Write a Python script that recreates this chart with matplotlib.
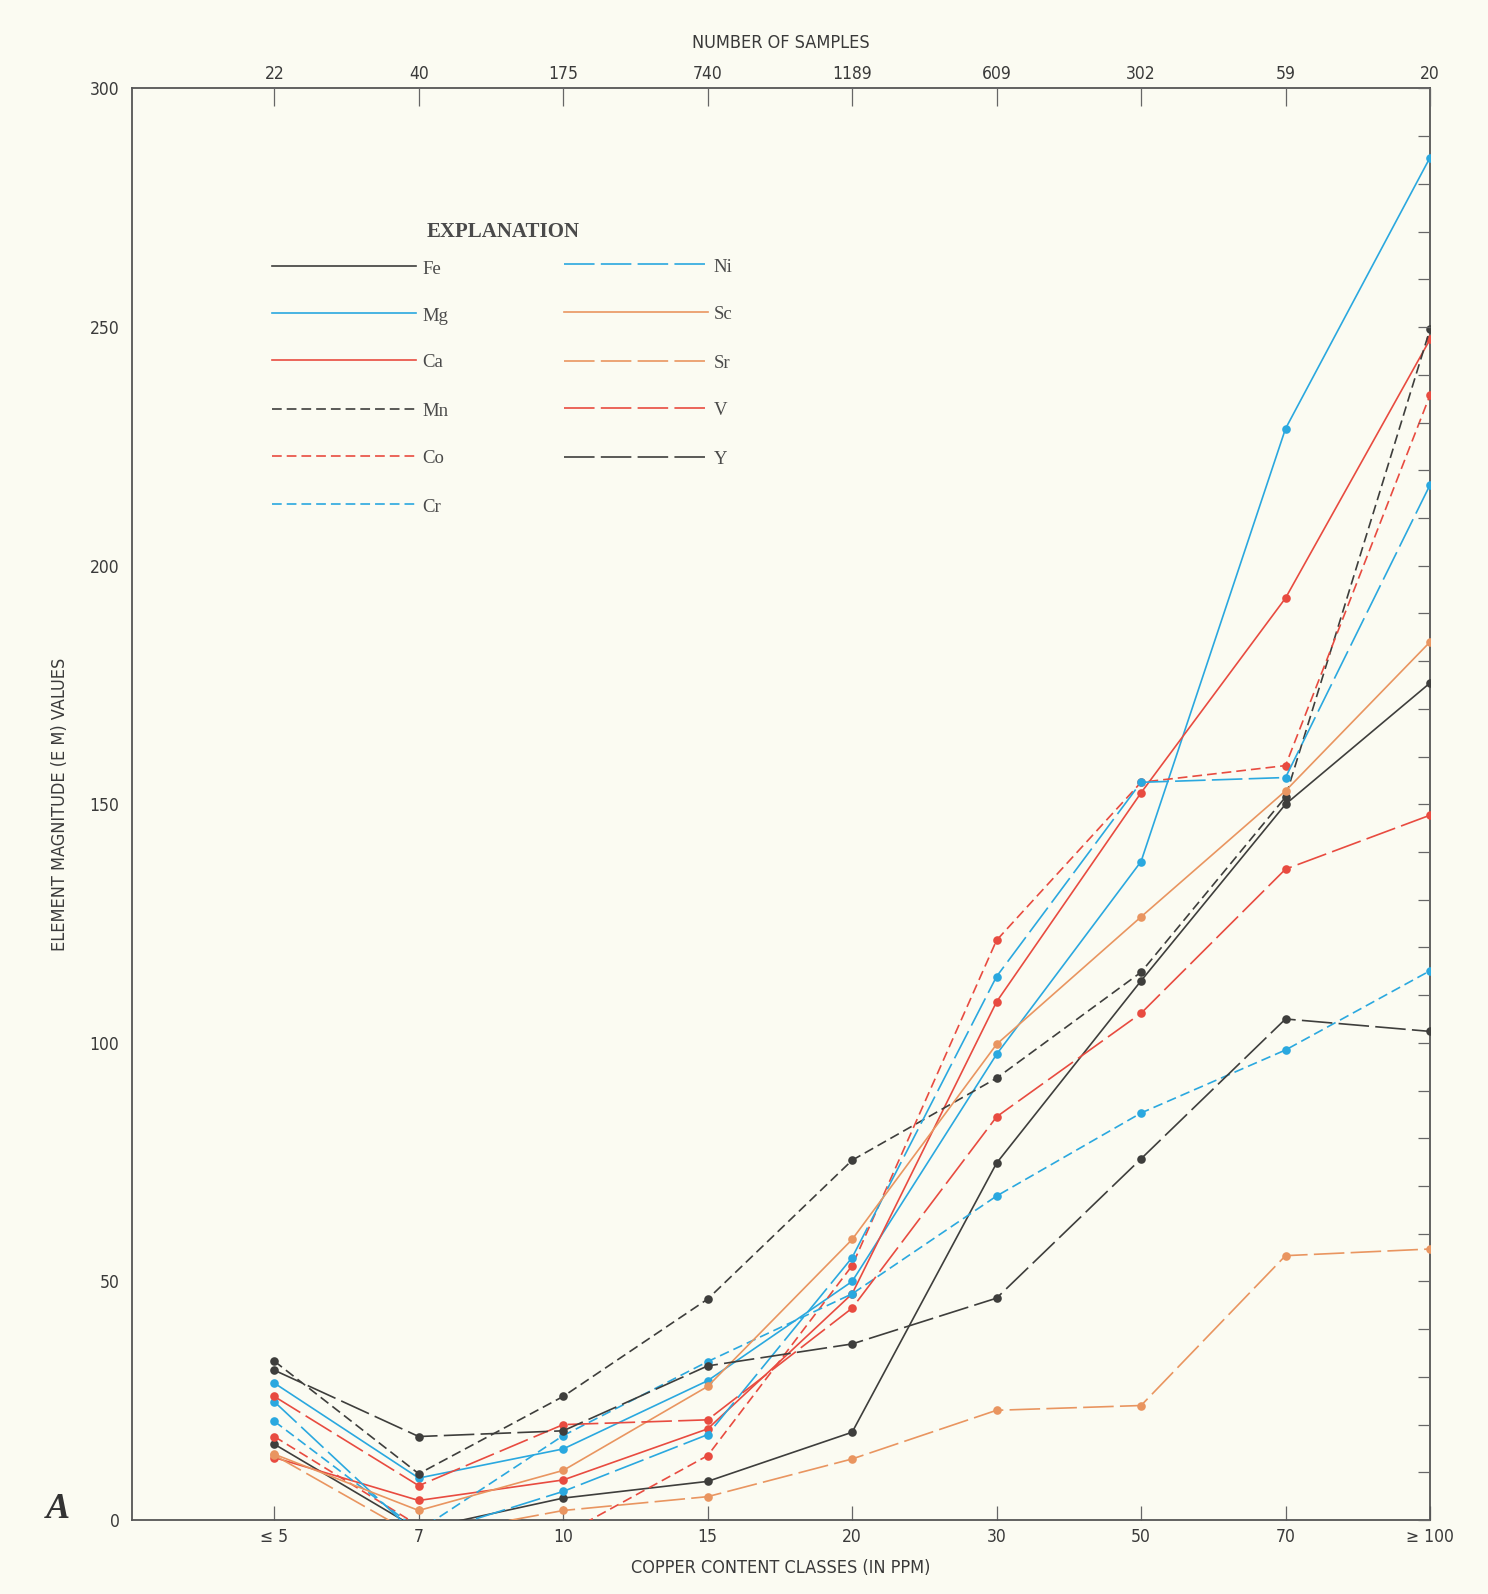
import numpy as np
import matplotlib
matplotlib.use("Agg")
import matplotlib.pyplot as plt
from matplotlib.lines import Line2D

# copper content classes (bottom axis) and number of samples (top axis)
cu_classes = ["\u2264 5", "7", "10", "15", "20", "30", "50", "70", "\u2265 100"]
n_samples = [22, 40, 175, 740, 1189, 609, 302, 59, 20]

# element magnitude values (points below 0 run off the chart)
fe = [15.9, -2.0, 4.6, 8.1, 18.4, 74.8, 113.0, 150.0, 175.4]
mg = [28.7, 8.8, 14.9, 29.2, 50.0, 97.6, 138.0, 228.7, 285.5]
ca = [13.1, 4.1, 8.4, 19.1, 47.4, 108.6, 152.4, 193.2, 247.4]
mn = [33.3, 9.7, 25.9, 46.3, 75.4, 92.6, 114.8, 151.5, 249.5]
co = [17.5, -1.2, -3.1, 13.5, 53.3, 121.5, 154.6, 158.1, 235.7]
cr = [20.7, -2.2, 17.7, 33.2, 47.4, 67.9, 85.3, 98.5, 115.1]
ni = [24.8, -3.5, 6.0, 17.9, 55.0, 113.9, 154.6, 155.6, 216.9]
sc = [13.8, 2.0, 10.4, 28.0, 58.8, 99.7, 126.4, 152.8, 184.0]
sr = [13.6, -3.6, 2.0, 4.9, 12.8, 23.0, 24.0, 55.4, 56.8]
v = [25.9, 7.2, 20.0, 21.0, 44.4, 84.5, 106.2, 136.4, 147.7]
y_el = [31.4, 17.5, 18.7, 32.3, 36.9, 46.5, 75.7, 105.0, 102.4]

BLACK = "#3e3e3c"
BLUE = "#2aa8df"
RED = "#e84b40"
ORANGE = "#e99560"
PAPER = "#fbfbf2"
TEXT = "#3a3a3a"

SOLID = "-"
SHORT = (0, (7.0, 3.6))
LONG = (0, (22.0, 4.5))

plt.rcParams["lines.scale_dashes"] = False
sans = ["Liberation Sans Narrow", "DejaVu Sans"]
serif = ["Liberation Serif", "DejaVu Serif"]
lab = dict(family=sans, stretch="condensed", color=TEXT)

# name, values, colour, linestyle, legend column, legend row
series = [
    ("Fe", fe, BLACK, SOLID, 0, 0),
    ("Mg", mg, BLUE, SOLID, 0, 1),
    ("Ca", ca, RED, SOLID, 0, 2),
    ("Mn", mn, BLACK, SHORT, 0, 3),
    ("Co", co, RED, SHORT, 0, 4),
    ("Cr", cr, BLUE, SHORT, 0, 5),
    ("Ni", ni, BLUE, LONG, 1, 0),
    ("Sc", sc, ORANGE, SOLID, 1, 1),
    ("Sr", sr, ORANGE, LONG, 1, 2),
    ("V", v, RED, LONG, 1, 3),
    ("Y", y_el, BLACK, LONG, 1, 4),
]

fig = plt.figure(figsize=(14.88, 15.94), dpi=100, facecolor=PAPER)
ax = fig.add_axes([0.0887, 0.0464, 0.8723, 0.8981])
ax.set_facecolor(PAPER)

x = np.arange(len(cu_classes))
for name, vals, col, ls, _, _ in series:
    ax.plot(x, vals, color=col, linestyle=ls, linewidth=1.2,
            marker="o", markersize=6.2, markeredgewidth=0, zorder=3)

ax.set_xlim(-0.985, len(cu_classes) - 1)
ax.set_ylim(0, 300)

for s in ax.spines.values():
    s.set_color("#555555")
    s.set_linewidth(1.3)

# bottom axis
ax.set_xticks(x)
ax.set_xticklabels(cu_classes, fontsize=12.5, **lab)
ax.tick_params(axis="x", direction="in", length=10, width=0.9, color="#666666", pad=6)
ax.set_xlabel("COPPER CONTENT CLASSES (IN PPM)", fontsize=13, labelpad=9, **lab)

# left axis labels only, right axis minor ticks every 10
ax.set_yticks(np.arange(0, 301, 50))
ax.set_yticklabels([str(t) for t in range(0, 301, 50)], fontsize=12.5, **lab)
ax.tick_params(axis="y", length=0, pad=9)
ax.set_ylabel("ELEMENT MAGNITUDE (E M) VALUES", fontsize=13, labelpad=15, **lab)
axr = ax.twinx()
axr.set_ylim(0, 300)
axr.set_yticks(np.arange(0, 301, 10))
axr.set_yticklabels([])
axr.tick_params(axis="y", direction="in", length=9, width=0.9, color="#666666")
for s in axr.spines.values():
    s.set_visible(False)

# top axis: number of samples
axt = ax.twiny()
axt.set_xlim(ax.get_xlim())
axt.set_xticks(x)
axt.set_xticklabels([str(n) for n in n_samples], fontsize=12.5, **lab)
axt.tick_params(axis="x", direction="in", length=13, width=0.9, color="#666666", pad=4)
axt.set_xlabel("NUMBER OF SAMPLES", fontsize=13, labelpad=12, **lab)
for s in axt.spines.values():
    s.set_visible(False)

# explanation block
ax.text(0.2858, 0.8999, "EXPLANATION", transform=ax.transAxes, ha="center",
        va="center", family=serif, fontweight="bold", fontsize=15, color="#4a4a4a")
col_x = [(0.108, 0.219, 0.224), (0.3328, 0.444, 0.448)]
row_y = [[0.8757, 0.843, 0.8104, 0.7763, 0.7436, 0.7095],
         [0.8771, 0.8438, 0.8097, 0.777, 0.7429]]
for name, vals, col, ls, c, r in series:
    x0, x1, xt = col_x[c]
    yy = row_y[c][r]
    ax.add_line(Line2D([x0, x1], [yy, yy], transform=ax.transAxes, color=col,
                       linestyle=ls, linewidth=1.2))
    ax.text(xt, yy - 0.002, name, transform=ax.transAxes, ha="left", va="center",
            family=serif, fontsize=13.5, color="#4a4a4a")

fig.text(0.039, 0.053, "A", family=serif, fontsize=26, fontweight="bold",
         fontstyle="italic", color="#333333", ha="center", va="center")

fig.savefig("out.png", dpi=100, facecolor=PAPER)
